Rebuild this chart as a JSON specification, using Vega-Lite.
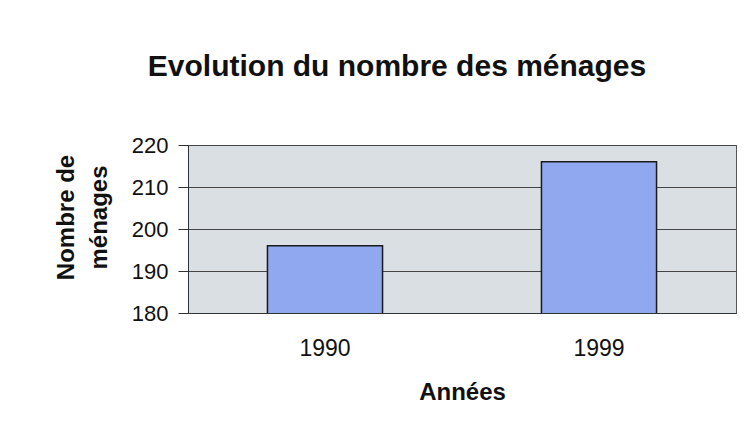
{
  "$schema": "https://vega.github.io/schema/vega-lite/v6.json",
  "autosize": "none",
  "width": 548,
  "height": 168,
  "padding": {"left": 188, "top": 145, "right": 20, "bottom": 133},
  "background": "white",
  "title": {
    "text": "Evolution du nombre des ménages",
    "font": "Liberation Sans",
    "fontSize": 30,
    "fontWeight": "bold",
    "color": "#111111",
    "anchor": "middle",
    "frame": "group",
    "offset": 52,
    "dx": -65
  },
  "data": {
    "values": [
      {"annee": "1990", "menages": 196},
      {"annee": "1999", "menages": 216}
    ]
  },
  "mark": {"type": "bar", "clip": true, "color": "#8FA8F0", "stroke": "#1a1a1a", "strokeWidth": 1.5},
  "encoding": {
    "x": {
      "field": "annee",
      "type": "nominal",
      "scale": {"paddingInner": 0.58, "paddingOuter": 0.29},
      "axis": {
        "title": "Années",
        "labelAngle": 0,
        "ticks": false,
        "labelPadding": 24,
        "titlePadding": 20,
        "domainColor": "#333333"
      }
    },
    "y": {
      "field": "menages",
      "type": "quantitative",
      "scale": {"domain": [180, 220], "nice": false, "zero": false},
      "axis": {
        "title": ["Nombre de", "ménages"],
        "values": [180, 190, 200, 210, 220],
        "tickSize": 10,
        "labelPadding": 10,
        "titlePadding": 20,
        "titleLineHeight": 33,
        "titleY": 72,
        "grid": true,
        "gridColor": "#444444",
        "gridWidth": 1,
        "domainColor": "#333333",
        "tickColor": "#333333"
      }
    }
  },
  "config": {
    "view": {"fill": "#D9DFE2", "stroke": "#555555"},
    "axis": {
      "labelFont": "Liberation Sans",
      "titleFont": "Liberation Sans",
      "labelColor": "#111111",
      "titleColor": "#111111",
      "titleFontWeight": "bold"
    },
    "axisX": {"labelFontSize": 23, "titleFontSize": 24},
    "axisY": {"labelFontSize": 22, "titleFontSize": 24}
  }
}
